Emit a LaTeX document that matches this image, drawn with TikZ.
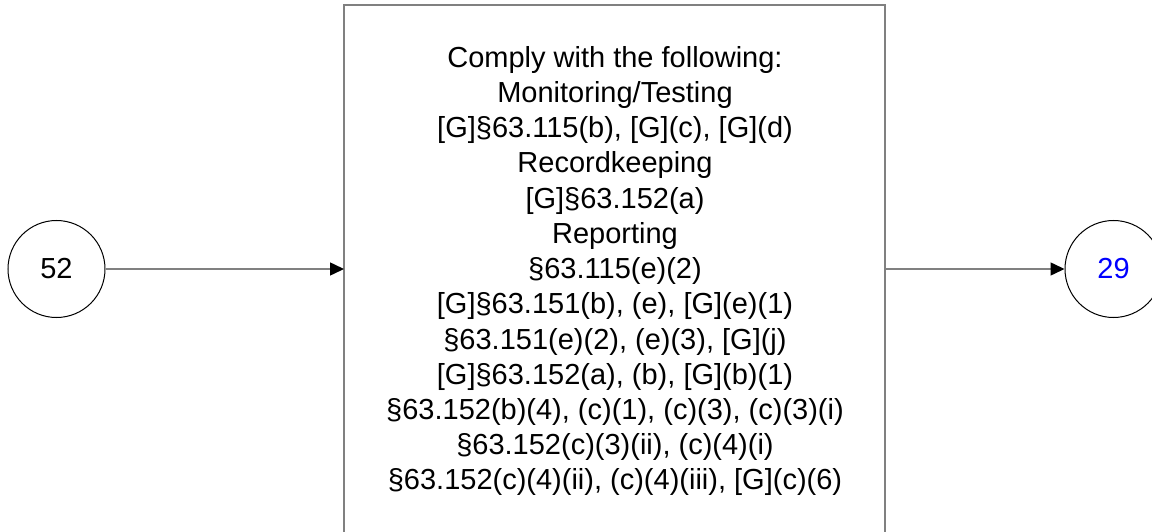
\documentclass[tikz,border=0pt]{standalone}
\usepackage{fontspec}
\setmainfont{Liberation Sans}
\usetikzlibrary{arrows.meta}
\definecolor{edgegray}{RGB}{128,128,128}
\definecolor{numblue}{RGB}{0,0,255}
\tikzset{
  endpoint/.style={circle, draw=black, line width=1pt, minimum size=97pt, inner sep=0pt,
    font=\fontsize{29}{35.25}\selectfont},
  procbox/.style={draw=edgegray, line width=2pt},
  boxtext/.style={align=center, inner sep=0pt, font=\fontsize{29}{35.25}\selectfont},
  flow/.style={draw=edgegray, line width=1.5pt, -{Triangle[length=14pt,width=13pt,color=black]}}
}
\begin{document}
\begin{tikzpicture}[x=1pt,y=-1pt]
\clip (0,0) rectangle (1152,532);
\fill[white] (0,0) rectangle (1152,532);
\draw[procbox] (344,5) rectangle (885,560);
\coordinate (boxL) at (344,269);
\coordinate (boxR) at (885,269);
\node[boxtext] (txt) at (615,271) {Comply with the following:\\
Monitoring/Testing\\
{[G]}§63.115(b), [G](c), [G](d)\\
Recordkeeping\\
{[G]}§63.152(a)\\
Reporting\\
§63.115(e)(2)\\
{[G]}§63.151(b), (e), [G](e)(1)\\
§63.151(e)(2), (e)(3), [G](j)\\
{[G]}§63.152(a), (b), [G](b)(1)\\
§63.152(b)(4), (c)(1), (c)(3), (c)(3)(i)\\
§63.152(c)(3)(ii), (c)(4)(i)\\
§63.152(c)(4)(ii), (c)(4)(iii), [G](c)(6)};
\node[endpoint] (a) at (56.5,269) {52};
\node[endpoint, text=numblue] (b) at (1113.5,269) {29};
\draw[flow] (a) -- (boxL);
\draw[flow] (boxR) -- (b);
\end{tikzpicture}
\end{document}
